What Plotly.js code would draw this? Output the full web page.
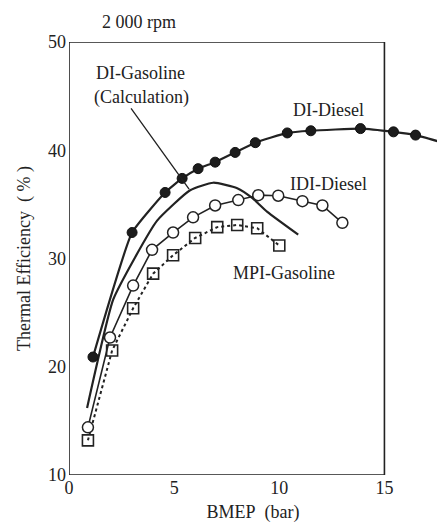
<!DOCTYPE html>
<html>
<head>
<meta charset="utf-8">
<script src="https://cdn.plot.ly/plotly-3.0.1.min.js"></script>
<style>html,body{margin:0;padding:0;background:#fff;}#chart{width:437px;height:527px;}</style>
</head>
<body>
<div id="chart"></div>
<script>
// Data
const diDieselX = [1.14, 3.0, 4.57, 5.38, 6.14, 6.95, 7.9, 8.86, 10.38, 11.5, 13.86, 15.43, 16.48, 17.6];
const diDieselY = [20.9, 32.4, 36.1, 37.4, 38.3, 38.9, 39.8, 40.7, 41.6, 41.8, 42.0, 41.7, 41.4, 40.8];
const diGasCalcX = [0.86, 2.1, 3.14, 4.19, 5.76, 6.86, 8.0, 8.71, 9.43, 10.9];
const diGasCalcY = [16.2, 26.2, 30.1, 33.5, 36.3, 37.0, 36.5, 35.6, 34.3, 32.2];
const idiDieselX = [0.9, 1.95, 3.05, 3.95, 4.95, 5.9, 6.95, 8.05, 9.0, 9.95, 11.1, 12.05, 13.0];
const idiDieselY = [14.4, 22.7, 27.5, 30.8, 32.4, 33.8, 34.9, 35.4, 35.85, 35.8, 35.3, 34.9, 33.3];
const mpiGasX = [0.9, 2.05, 3.05, 4.0, 4.95, 6.0, 7.05, 8.0, 8.95, 10.0];
const mpiGasY = [13.2, 21.5, 25.4, 28.6, 30.3, 31.9, 32.9, 33.1, 32.8, 31.2];
const xTicks = [0, 5, 10, 15];
const yTicks = [10, 20, 30, 40, 50];

const ink = '#222222';
const serif = '"Liberation Serif", "DejaVu Serif", serif';

const traces = [
  {
    x: diGasCalcX, y: diGasCalcY, mode: 'lines', type: 'scatter',
    line: {color: ink, width: 2.2, shape: 'spline', smoothing: 0.5},
    hoverinfo: 'skip'
  },
  {
    x: mpiGasX, y: mpiGasY, mode: 'lines+markers', type: 'scatter',
    line: {color: ink, width: 2, dash: 'dot'},
    marker: {symbol: 'square-open', size: 11, color: ink, line: {width: 1.6, color: ink}},
    hoverinfo: 'skip'
  },
  {
    x: idiDieselX, y: idiDieselY, mode: 'lines+markers', type: 'scatter',
    line: {color: ink, width: 1.6},
    marker: {symbol: 'circle', size: 11, color: '#ffffff', line: {width: 1.5, color: ink}},
    hoverinfo: 'skip'
  },
  {
    x: diDieselX, y: diDieselY, mode: 'lines+markers', type: 'scatter',
    line: {color: ink, width: 2.2, shape: 'spline', smoothing: 0.4},
    marker: {symbol: 'circle', size: diDieselX.map((v, i) => i === diDieselX.length - 1 ? 0 : 10), color: '#1c1c1c', opacity: 1, line: {width: 1, color: '#111111'}},
    hoverinfo: 'skip'
  }
];

const txtFont = {family: serif, size: 18, color: ink};

const layout = {
  width: 437, height: 527,
  margin: {l: 69, r: 0, t: 42, b: 52},
  paper_bgcolor: '#ffffff', plot_bgcolor: '#ffffff',
  showlegend: false,
  font: txtFont,
  xaxis: {
    range: [0, 17.5], tickvals: xTicks, ticktext: xTicks.map(String),
    showgrid: false, zeroline: false, showline: false, ticks: '',
    tickfont: txtFont,
    title: {text: 'BMEP\u00a0\u00a0(bar)', font: txtFont, standoff: 8}
  },
  yaxis: {
    range: [10, 50], tickvals: yTicks, ticktext: yTicks.map(String),
    showgrid: false, zeroline: false, showline: false, ticks: '',
    tickfont: txtFont, ticklabelstandoff: 2,
    title: {text: 'Thermal Efficiency\u00a0\u00a0(\u00a0%\u00a0)', font: txtFont, standoff: 12}
  },
  shapes: [
    {type: 'rect', xref: 'x', yref: 'y', x0: 0, x1: 15, y0: 10, y1: 50,
     line: {color: ink, width: 1.6}, layer: 'below'}
  ],
  annotations: [
    {text: '2\u00a0000 rpm', x: 0.19, y: 1.046, xref: 'paper', yref: 'paper', xanchor: 'center', yanchor: 'middle', showarrow: false, font: txtFont},
    {text: 'DI-Gasoline', x: 3.38, y: 47.1, xref: 'x', yref: 'y', showarrow: false, font: txtFont},
    {text: '(Calculation)', x: 3.43, y: 44.9, xref: 'x', yref: 'y', showarrow: false, font: txtFont},
    {text: '', x: 5.71, y: 36.4, xref: 'x', yref: 'y', ax: 2.9, ay: 44.0, axref: 'x', ayref: 'y',
     showarrow: true, arrowhead: 0, arrowwidth: 1.3, arrowcolor: ink, standoff: 0},
    {text: 'DI-Diesel', x: 12.33, y: 43.7, xref: 'x', yref: 'y', showarrow: false, font: txtFont},
    {text: 'IDI-Diesel', x: 12.33, y: 36.9, xref: 'x', yref: 'y', showarrow: false, font: txtFont},
    {text: 'MPI-Gasoline', x: 10.24, y: 28.7, xref: 'x', yref: 'y', showarrow: false, font: txtFont}
  ]
};

Plotly.newPlot('chart', traces, layout, {staticPlot: true, displayModeBar: false});
</script>
</body>
</html>
